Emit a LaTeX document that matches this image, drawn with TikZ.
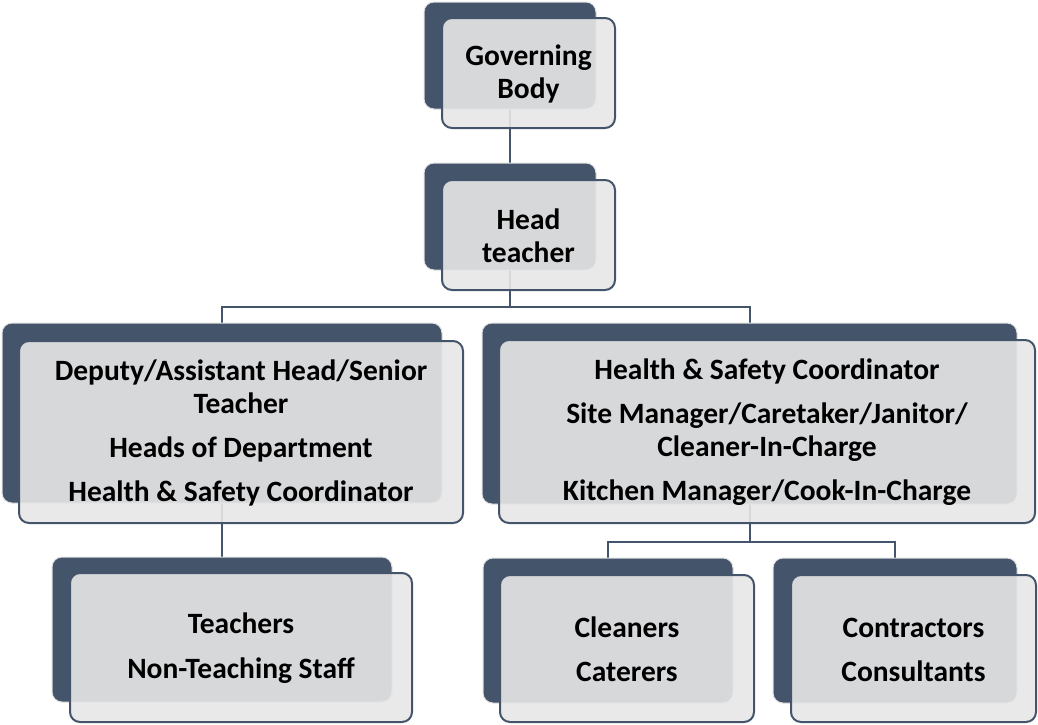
\documentclass[tikz,border=0pt]{standalone}
\usepackage{fontspec}
\setmainfont{Carlito}
\usetikzlibrary{fit,backgrounds}
\definecolor{slate}{HTML}{44546A}
\begin{document}
\begin{tikzpicture}[x=1pt,y=-1pt,
  back/.style={fill=slate, draw=black!12, line width=1pt, rounded corners=10pt, inner sep=0pt},
  front/.style={fill=black!9.5, fill opacity=0.9, draw=slate, line width=2pt, rounded corners=10pt, inner sep=0pt},
  conn/.style={draw=slate, line width=2pt},
  lbl/.style={font=\bfseries\fontsize{29.5}{33}\selectfont, align=center, inner sep=0pt, text=black}]
\useasboundingbox (0,0) rectangle (1038,724);
% Governing Body
\node[back, fit={(424,2) (596,109)}] (gbB) {};
\node[front, fit={(442,18) (615,128)}] (gbF) {};
\node[lbl] (gbT) at ([yshift=-1pt]gbF.center) {Governing\\Body};
% Head teacher
\node[back, fit={(424,163) (596,270)}] (htB) {};
\node[front, fit={(442,180) (615,290)}] (htF) {};
\node[lbl] (htT) at ([yshift=-1pt]htF.center) {Head\\teacher};
% Left middle
\node[back, fit={(2,323) (442,503)}] (lmB) {};
\node[front, fit={(19,341) (463,523)}] (lmF) {};
\node[lbl] (lmT) at ([yshift=-1pt]lmF.center) {Deputy/Assistant Head/Senior\\Teacher\\[11pt]Heads of Department\\[11pt]Health \& Safety Coordinator};
% Right middle
\node[back, fit={(482,323) (1017,504)}] (rmB) {};
\node[front, fit={(499,340) (1035,523)}] (rmF) {};
\node[lbl] (rmT) at ([yshift=-1pt]rmF.center) {Health \& Safety Coordinator\\[11pt]Site Manager/Caretaker/Janitor/\\Cleaner-In-Charge\\[11pt]Kitchen Manager/Cook-In-Charge};
% Bottom left
\node[back, fit={(52,557) (392,702)}] (blB) {};
\node[front, fit={(70,573) (412,722)}] (blF) {};
\node[lbl] (blT) at ([yshift=-1pt]blF.center) {Teachers\\[12pt]Non-Teaching Staff};
% Cleaners
\node[back, fit={(483,558) (733,703)}] (clB) {};
\node[front, fit={(500,575) (754,722)}] (clF) {};
\node[lbl] (clT) at ([yshift=-1pt]clF.center) {Cleaners\\[11pt]Caterers};
% Contractors
\node[back, fit={(773,558) (1017,703)}] (coB) {};
\node[front, fit={(791,575) (1036,722)}] (coF) {};
\node[lbl] (coT) at ([yshift=-1pt]coF.center) {Contractors\\[11pt]Consultants};
% connectors
\coordinate (j1) at (510,307);
\coordinate (j2) at (749.5,542);
\begin{scope}[on background layer]
\draw[conn] (gbB.center) -- (htB.center);
\draw[conn] (htB.center) -- (j1);
\draw[conn] (lmB.center) |- (j1) -| (rmB.center);
\draw[conn] (lmB.center) -- (blB.center);
\draw[conn] (rmB.center) -- (j2);
\draw[conn] (clB.center) |- (j2) -| (coB.center);
\end{scope}
\end{tikzpicture}
\end{document}
